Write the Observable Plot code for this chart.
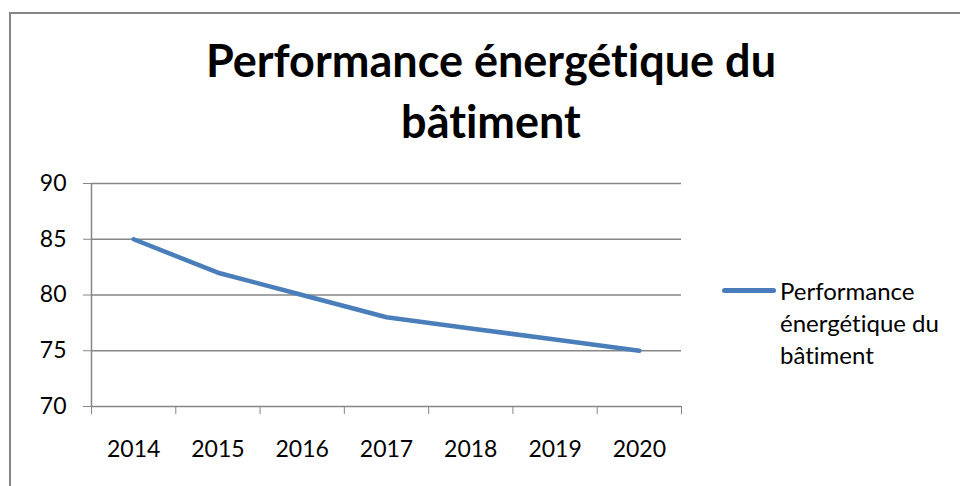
<!DOCTYPE html>
<html><head><meta charset="utf-8">
<script src="https://cdn.jsdelivr.net/npm/d3@7"></script>
<script src="https://cdn.jsdelivr.net/npm/@observablehq/plot@0.6"></script>
<style>
html,body{margin:0;padding:0;background:#fff;}
#wrap{position:relative;width:960px;height:486px;overflow:hidden;font-family:Lato,"Open Sans",sans-serif;font-variant-ligatures:none;font-feature-settings:"liga" 0;}
#border{position:absolute;left:9px;top:12px;width:1000px;height:600px;border:2px solid #868686;box-sizing:border-box;}
#title{position:absolute;left:0;top:30px;width:982px;text-align:center;font-weight:bold;font-size:45px;line-height:61px;color:#000;}
#legend{position:absolute;left:722px;top:275px;font-size:24px;line-height:32px;color:#000;}
#legend .sw{position:absolute;left:0;top:13px;width:54px;height:5px;border-radius:3px;background:#4A7EBB;}
#legend .lb{position:absolute;left:58px;top:0;white-space:nowrap;}
#chart{position:absolute;left:0;top:0;}
#chart svg text{fill:#000;font-variant-ligatures:none;}
</style></head>
<body><div id="wrap">
<div id="border"></div>
<div id="chart"></div>
<div id="title"></div>
<div id="legend"><div class="sw"></div><div class="lb"></div></div>
</div>
<script>
const titleLines = ["Performance énergétique du", "bâtiment"];
const seriesName = ["Performance", "énergétique du", "bâtiment"];
const years = [2014, 2015, 2016, 2017, 2018, 2019, 2020];
const values = [85, 82, 80, 78, 77, 76, 75];
const yTicks = [70, 75, 80, 85, 90];

document.getElementById("title").innerHTML = titleLines.join("<br>");
document.querySelector("#legend .lb").innerHTML = seriesName.join("<br>");

const data = years.map((y, i) => ({year: y, value: values[i]}));
const bounds = [...years.map(y => y - 0.5), years[years.length - 1] + 0.5];

const chart = Plot.plot({
  width: 960,
  height: 486,
  marginLeft: 91,
  marginRight: 279,
  marginTop: 183,
  marginBottom: 80,
  style: {fontFamily: "Lato, 'Open Sans', sans-serif", fontSize: "23px", color: "#868686", background: "transparent", overflow: "visible"},
  x: {domain: [bounds[0], bounds[bounds.length - 1]], ticks: bounds, tickSize: 8, tickFormat: () => "", label: null},
  y: {domain: [70, 90], ticks: yTicks, tickSize: 8, tickPadding: 17, tickFormat: d => String(d), label: null},
  marks: [
    Plot.ruleY(yTicks, {stroke: "#868686", strokeWidth: 1.5}),
    Plot.ruleX([bounds[0]], {stroke: "#868686", strokeWidth: 1.5}),
    Plot.text(years, {x: d => d, y: () => 70, dy: 43, text: d => String(d), fill: "#000", fontSize: 23}),
    Plot.line(data, {x: "year", y: "value", stroke: "#4A7EBB", strokeWidth: 4.5, strokeLinecap: "round", strokeLinejoin: "round", curve: "linear"})
  ]
});
document.getElementById("chart").appendChild(chart);
</script>
</body></html>
